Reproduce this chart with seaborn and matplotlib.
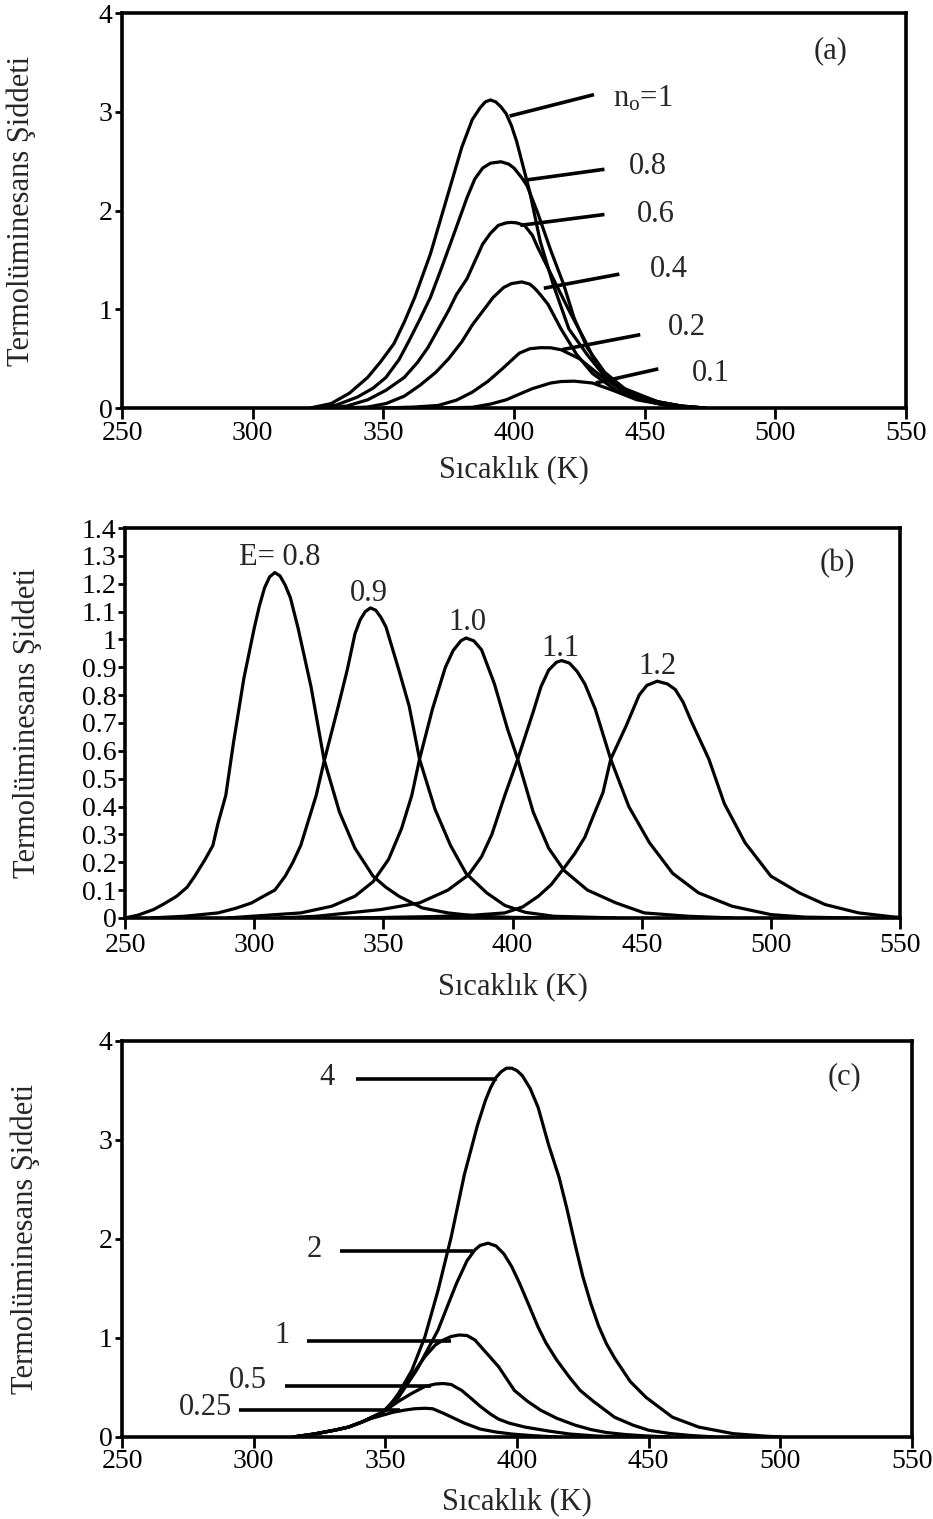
#---TL glow curves, three stacked panels (a), (b), (c)
import matplotlib
matplotlib.use('Agg')
import matplotlib.pyplot as plt
import seaborn as sns
import pandas as pd

#---panel (a): glow curves for different n_o (T in K, intensity)
a_T_1 = [322, 330, 337, 344, 349, 354, 358, 362, 368, 375, 380, 384, 387, 389, 391, 393, 395, 397, 399, 401, 406, 410, 415, 421, 428, 435, 444, 455, 464, 473]
a_I_1 = [0, 0.045, 0.15, 0.31, 0.47, 0.65, 0.87, 1.12, 1.56, 2.19, 2.64, 2.92, 3.04, 3.10, 3.12, 3.10, 3.05, 2.98, 2.86, 2.70, 2.19, 1.69, 1.25, 0.80, 0.54, 0.31, 0.16, 0.063, 0.02, 0]
a_T_08 = [325, 332, 340, 346, 351, 356, 360, 364, 368, 372, 376, 382, 385, 388, 391, 395, 398, 400, 403, 405, 409, 414, 419, 423, 428, 435, 444, 455, 464, 473]
a_I_08 = [0, 0.03, 0.11, 0.2, 0.31, 0.49, 0.69, 0.9, 1.12, 1.4, 1.69, 2.13, 2.32, 2.43, 2.48, 2.494, 2.47, 2.43, 2.33, 2.25, 1.98, 1.60, 1.25, 0.91, 0.61, 0.35, 0.16, 0.063, 0.02, 0]
a_T_06 = [328, 336, 344, 351, 358, 363, 367, 371, 375, 378, 382, 388, 391, 394, 397, 399, 401, 404, 407, 409, 415, 421, 427, 432, 442, 455, 464, 473]
a_I_06 = [0, 0.02, 0.083, 0.18, 0.31, 0.46, 0.61, 0.80, 0.99, 1.15, 1.31, 1.66, 1.77, 1.85, 1.875, 1.88, 1.875, 1.85, 1.75, 1.63, 1.31, 0.99, 0.69, 0.42, 0.20, 0.063, 0.02, 0]
a_T_04 = [335, 344, 351, 358, 364, 370, 375, 380, 384, 388, 392, 396, 399, 403, 406, 408, 410, 413, 418, 424, 430, 439, 448, 455, 464, 473]
a_I_04 = [0, 0.01, 0.045, 0.12, 0.23, 0.36, 0.50, 0.67, 0.84, 0.98, 1.12, 1.22, 1.26, 1.277, 1.255, 1.21, 1.15, 1.05, 0.80, 0.54, 0.35, 0.18, 0.09, 0.045, 0.015, 0]
a_T_02 = [350, 362, 371, 378, 384, 390, 395, 402, 406, 410, 414, 418, 425, 432, 440, 449, 456, 462, 471]
a_I_02 = [0, 0.01, 0.026, 0.08, 0.16, 0.27, 0.385, 0.555, 0.60, 0.611, 0.61, 0.59, 0.50, 0.35, 0.20, 0.083, 0.04, 0.015, 0]
a_T_01 = [370, 384, 391, 397, 402, 407, 414, 418, 423, 430, 438, 447, 459, 466, 473]
a_I_01 = [0, 0.007, 0.04, 0.083, 0.14, 0.196, 0.253, 0.268, 0.272, 0.253, 0.177, 0.083, 0.026, 0.008, 0]

#-labels of panel (a): text, text x/y, pointer line start x/y, end x/y
a_labels = [r'n$_{\mathrm{o}}$=1', '0.8', '0.6', '0.4', '0.2', '0.1']
a_label_T = [438, 444, 447, 452, 459, 468]
a_label_I = [3.13, 2.45, 1.96, 1.40, 0.82, 0.35]
a_line_T0 = [398.3, 403.6, 402.4, 411.4, 418.5, 431.2]
a_line_I0 = [2.957, 2.305, 1.85, 1.213, 0.592, 0.253]
a_line_T1 = [430.6, 434.6, 434.6, 440.3, 448.3, 455.2]
a_line_I1 = [3.174, 2.418, 1.96, 1.356, 0.743, 0.396]

#---panel (b): glow curves for different E
b_T_08 = [250, 255, 261, 265, 270, 274, 277, 281, 284, 286, 289, 292, 296, 300, 302, 304, 306, 308, 310, 312, 314, 317, 322, 327, 333, 339, 346, 351, 356, 365, 375, 387, 400, 420]
b_I_08 = [0, 0.01, 0.03, 0.05, 0.078, 0.11, 0.15, 0.21, 0.26, 0.34, 0.44, 0.63, 0.86, 1.04, 1.12, 1.185, 1.225, 1.24, 1.228, 1.195, 1.15, 1.04, 0.83, 0.57, 0.38, 0.25, 0.15, 0.11, 0.078, 0.036, 0.018, 0.006, 0.002, 0]
b_T_09 = [260, 273, 286, 293, 299, 304, 308, 312, 315, 318, 320, 324, 327, 332, 336, 339, 341, 343, 345, 347, 349, 351, 356, 360, 364, 370, 376, 382, 390, 397, 405, 416, 440]
b_I_09 = [0, 0.006, 0.018, 0.035, 0.054, 0.08, 0.10, 0.15, 0.20, 0.26, 0.32, 0.44, 0.56, 0.74, 0.89, 1.02, 1.07, 1.10, 1.113, 1.105, 1.08, 1.045, 0.89, 0.76, 0.57, 0.39, 0.26, 0.16, 0.09, 0.045, 0.02, 0.006, 0]
b_T_10 = [290, 299, 318, 330, 339, 346, 352, 357, 361, 364, 369, 374, 377, 380, 382, 385, 388, 393, 398, 402, 408, 414, 420, 429, 440, 451, 468, 485]
b_I_10 = [0, 0.006, 0.018, 0.042, 0.078, 0.13, 0.21, 0.32, 0.44, 0.57, 0.75, 0.90, 0.96, 0.995, 1.005, 0.995, 0.963, 0.84, 0.68, 0.57, 0.38, 0.25, 0.17, 0.10, 0.054, 0.018, 0.006, 0]
b_T_11 = [310, 324, 349, 364, 375, 383, 388, 392, 397, 402, 408, 411, 414, 417, 419, 422, 425, 428, 432, 438, 445, 453, 462, 472, 485, 500, 513, 530]
b_I_11 = [0, 0.006, 0.03, 0.054, 0.10, 0.155, 0.22, 0.30, 0.44, 0.57, 0.74, 0.83, 0.89, 0.918, 0.924, 0.915, 0.885, 0.84, 0.75, 0.57, 0.40, 0.27, 0.16, 0.09, 0.042, 0.012, 0.003, 0]
b_T_12 = [340, 370, 385, 397, 404, 410, 415, 420, 424, 428, 431, 435, 438, 444, 449, 452, 456, 460, 463, 466, 469, 476, 482, 490, 500, 511, 521, 534, 547, 550]
b_I_12 = [0, 0.005, 0.01, 0.018, 0.04, 0.078, 0.12, 0.18, 0.23, 0.29, 0.36, 0.45, 0.57, 0.69, 0.80, 0.835, 0.85, 0.84, 0.82, 0.775, 0.71, 0.57, 0.41, 0.27, 0.15, 0.09, 0.048, 0.018, 0.004, 0.002]

b_labels = ['E= 0.8', '0.9', '1.0', '1.1', '1.2']
b_label_T = [310, 344.4, 382.6, 418.6, 455.9]
b_label_I = [1.293, 1.166, 1.059, 0.969, 0.903]
b_yticks = [0, 0.1, 0.2, 0.3, 0.4, 0.5, 0.6, 0.7, 0.8, 0.9, 1.0, 1.1, 1.2, 1.3, 1.4]
b_ytick_labels = ['0', '0.1', '0.2', '0.3', '0.4', '0.5', '0.6', '0.7', '0.8', '0.9', '1', '1.1', '1.2', '1.3', '1.4']

#---panel (c): glow curves for different dose
c_T_4 = [315, 323, 331, 336, 341, 345, 349, 352, 355, 360, 365, 370, 375, 380, 385, 388, 390, 392, 394, 396, 398, 400, 402, 405, 408, 412, 416, 419, 422, 425, 428, 431, 434, 437, 443, 449, 459, 469, 482, 495, 500]
c_I_4 = [0, 0.03, 0.07, 0.10, 0.15, 0.20, 0.25, 0.33, 0.44, 0.67, 1.01, 1.48, 2.02, 2.65, 3.15, 3.40, 3.53, 3.63, 3.69, 3.725, 3.725, 3.70, 3.65, 3.52, 3.33, 2.95, 2.62, 2.30, 1.95, 1.62, 1.35, 1.12, 0.94, 0.80, 0.56, 0.40, 0.20, 0.10, 0.034, 0.007, 0]
c_T_2 = [315, 323, 331, 336, 341, 345, 349, 355, 362, 366, 370, 374, 377, 381, 384, 386, 389, 392, 395, 398, 401, 405, 408, 411, 415, 420, 424, 429, 437, 444, 450, 458, 466, 475]
c_I_2 = [0, 0.03, 0.07, 0.10, 0.15, 0.20, 0.25, 0.40, 0.68, 0.88, 1.08, 1.35, 1.55, 1.78, 1.89, 1.935, 1.957, 1.93, 1.85, 1.72, 1.55, 1.30, 1.11, 0.95, 0.78, 0.60, 0.47, 0.36, 0.20, 0.12, 0.068, 0.035, 0.015, 0]
c_T_1 = [315, 323, 331, 336, 341, 345, 349, 355, 360, 365, 369, 372, 375, 378, 381, 384, 386, 390, 393, 396, 399, 404, 409, 415, 422, 428, 434, 441, 448, 458]
c_I_1 = [0, 0.03, 0.07, 0.10, 0.15, 0.20, 0.25, 0.42, 0.62, 0.81, 0.93, 0.98, 1.015, 1.03, 1.025, 0.98, 0.92, 0.80, 0.71, 0.59, 0.47, 0.36, 0.27, 0.19, 0.12, 0.075, 0.045, 0.025, 0.012, 0]
c_T_05 = [315, 323, 331, 336, 341, 345, 349, 355, 360, 365, 369, 372, 375, 379, 383, 386, 390, 393, 397, 403, 412, 420, 430, 440]
c_I_05 = [0, 0.03, 0.07, 0.10, 0.15, 0.20, 0.25, 0.36, 0.44, 0.51, 0.535, 0.54, 0.53, 0.47, 0.38, 0.31, 0.23, 0.18, 0.14, 0.10, 0.06, 0.03, 0.01, 0]
c_T_025 = [315, 323, 331, 336, 341, 345, 349, 353, 357, 361, 365, 368, 372, 376, 380, 386, 392, 398, 405, 415]
c_I_025 = [0, 0.03, 0.07, 0.10, 0.15, 0.19, 0.22, 0.25, 0.27, 0.285, 0.29, 0.285, 0.24, 0.19, 0.14, 0.08, 0.05, 0.03, 0.015, 0]

c_labels = ['4', '2', '1', '0.5', '0.25']
c_label_T = [327.7, 323, 310.8, 297.9, 281.7]
c_label_I = [3.63, 1.89, 1.03, 0.566, 0.30]
c_line_T0 = [339, 332.6, 320.4, 312, 294.3]
c_line_T1 = [392.5, 383.1, 374.9, 367.4, 355.5]
c_line_I = [3.62, 1.88, 0.97, 0.51, 0.27]

xticks = [250, 300, 350, 400, 450, 500, 550]
x_title = 'Sıcaklık (K)'
y_title = 'Termolüminesans Şiddeti'


def long_df(series):
    #-series is a list of (name, T list, I list)
    parts = [pd.DataFrame({'T': t, 'I': i, 'curve': name}) for name, t, i in series]
    return pd.concat(parts, ignore_index=True)


df_a = long_df([('1', a_T_1, a_I_1), ('0.8', a_T_08, a_I_08), ('0.6', a_T_06, a_I_06),
                ('0.4', a_T_04, a_I_04), ('0.2', a_T_02, a_I_02), ('0.1', a_T_01, a_I_01)])
df_b = long_df([('0.8', b_T_08, b_I_08), ('0.9', b_T_09, b_I_09), ('1.0', b_T_10, b_I_10),
                ('1.1', b_T_11, b_I_11), ('1.2', b_T_12, b_I_12)])
df_c = long_df([('4', c_T_4, c_I_4), ('2', c_T_2, c_I_2), ('1', c_T_1, c_I_1),
                ('0.5', c_T_05, c_I_05), ('0.25', c_T_025, c_I_025)])

#---style
sns.set_theme(style='white')
plt.rcParams['font.family'] = ['Liberation Serif', 'DejaVu Serif']
plt.rcParams['mathtext.fontset'] = 'custom'
plt.rcParams['mathtext.rm'] = 'Liberation Serif'
plt.rcParams['mathtext.it'] = 'Liberation Serif:italic'

fig = plt.figure(figsize=(9.33, 15.19), dpi=100)
ax_a = fig.add_axes([0.1308, 0.7314, 0.8403, 0.2600])
ax_b = fig.add_axes([0.1340, 0.3957, 0.8307, 0.2567])
ax_c = fig.add_axes([0.1308, 0.0540, 0.8467, 0.2607])

lw = 2.3
for ax, df in [(ax_a, df_a), (ax_b, df_b), (ax_c, df_c)]:
    n = df['curve'].nunique()
    sns.lineplot(data=df, x='T', y='I', hue='curve', palette=['black'] * n,
                 estimator=None, sort=False, legend=False, linewidth=lw,
                 solid_joinstyle='round', ax=ax)
    ax.set_xlim(250, 550)
    ax.set_xticks(xticks)
    for s in ax.spines.values():
        s.set_linewidth(2.6)
        s.set_color('black')
    ax.tick_params(axis='both', which='major', direction='out', bottom=True, left=True,
                   width=2, colors='black', labelsize=20)
    ax.tick_params(axis='x', length=8, pad=1)
    ax.tick_params(axis='y', length=5, pad=2)
    ax.set_xlabel(x_title, fontsize=22)
    ax.set_ylabel(y_title, fontsize=22)
    ax.xaxis.label.set_va('center')
    ax.yaxis.label.set_va('center')

#-panel (a)
ax_a.set_ylim(0, 4)
ax_a.set_yticks([0, 1, 2, 3, 4])
for k in range(len(a_labels)):
    ax_a.plot([a_line_T0[k], a_line_T1[k]], [a_line_I0[k], a_line_I1[k]], color='black', lw=2.6,
              solid_capstyle='butt')
    ax_a.text(a_label_T[k], a_label_I[k], a_labels[k], fontsize=22, ha='left', va='center')
ax_a.text(521, 3.62, '(a)', fontsize=22, ha='center', va='center')
ax_a.xaxis.set_label_coords(0.5, -0.157)
ax_a.yaxis.set_label_coords(-0.128, 0.5)

#-panel (b)
ax_b.set_ylim(0, 1.4)
ax_b.set_yticks(b_yticks)
ax_b.set_yticklabels(b_ytick_labels)
ax_b.tick_params(axis='y', labelsize=20, pad=1)
ax_b.tick_params(axis='x', pad=3)
for k in range(len(b_labels)):
    ax_b.text(b_label_T[k], b_label_I[k], b_labels[k], fontsize=22, ha='center', va='center')
ax_b.text(525.7, 1.274, '(b)', fontsize=22, ha='center', va='center')
ax_b.xaxis.set_label_coords(0.5, -0.177)
ax_b.yaxis.set_label_coords(-0.126, 0.5)

#-panel (c)
ax_c.set_ylim(0, 4)
ax_c.set_yticks([0, 1, 2, 3, 4])
for k in range(len(c_labels)):
    ax_c.plot([c_line_T0[k], c_line_T1[k]], [c_line_I[k], c_line_I[k]], color='black', lw=2.6,
              solid_capstyle='butt')
    ax_c.text(c_label_T[k], c_label_I[k], c_labels[k], fontsize=22, ha='center', va='center')
ax_c.text(524.4, 3.64, '(c)', fontsize=22, ha='center', va='center')
ax_c.xaxis.set_label_coords(0.5, -0.164)
ax_c.yaxis.set_label_coords(-0.123, 0.5)

plt.savefig('out.png', dpi=100)
